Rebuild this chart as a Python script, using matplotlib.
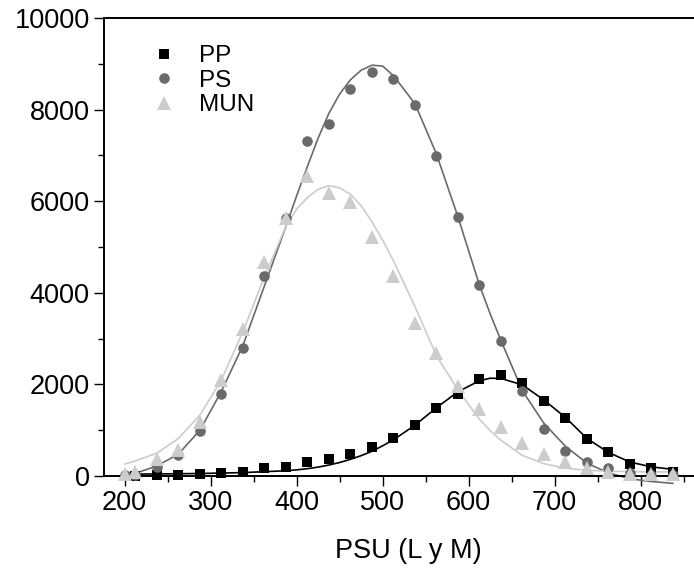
import matplotlib
matplotlib.use("Agg")
import matplotlib.pyplot as plt
from matplotlib.ticker import MultipleLocator

plt.rcParams["font.family"] = ["Liberation Sans", "DejaVu Sans"]

# marker positions (PSU score bins)
psu = [200, 212.5, 237.5, 262.5, 287.5, 312.5, 337.5, 362.5, 387.5, 412.5,
       437.5, 462.5, 487.5, 512.5, 537.5, 562.5, 587.5, 612.5, 637.5, 662.5,
       687.5, 712.5, 737.5, 762.5, 787.5, 812.5, 837.5]

pp = [0, 5, 20, 15, 35, 65, 95, 175, 205, 300,
      380, 480, 640, 820, 1110, 1490, 1780, 2110, 2205, 2040,
      1645, 1260, 815, 515, 255, 165, 90]
ps = [20, 30, 200, 450, 975, 1800, 2790, 4375, 5630, 7310,
      7690, 8440, 8810, 8670, 8090, 6990, 5655, 4170, 2955, 1860,
      1020, 550, 310, 165, 60, 30, 20]
mun = [40, 95, 365, 570, 1190, 2100, 3220, 4680, 5630, 6560,
       6170, 5975, 5225, 4370, 3330, 2680, 1970, 1455, 1060, 730,
       475, 300, 170, 95, 50, 40, 40]

# fitted curves, values
fit_x = [200, 212.5, 237.5, 262.5, 287.5, 312.5, 337.5, 362.5, 387.5, 400,
         412.5, 425, 437.5, 450, 462.5, 475, 487.5, 500, 512.5, 537.5,
         562.5, 587.5, 612.5, 625, 637.5, 662.5, 687.5, 712.5, 737.5, 762.5,
         787.5, 812.5, 837.5]
pp_fit = [40, 42, 45, 50, 55, 65, 75, 95, 115, 135,
          160, 195, 240, 295, 365, 445, 540, 660, 790, 1110,
          1490, 1840, 2080, 2135, 2130, 1990, 1660, 1280, 820, 515,
          305, 200, 145]
ps_fit = [0, 60, 220, 480, 1000, 1850, 2850, 4150, 5450, 6120,
          6760, 7380, 7920, 8340, 8650, 8860, 8970, 8950, 8740, 8130,
          7030, 5660, 4170, 3540, 2960, 1860, 1150, 650, 280, 70,
          -60, -120, -160]
mun_fit = [260, 330, 500, 820, 1330, 2100, 3150, 4350, 5450, 5830,
           6080, 6260, 6340, 6290, 6150, 5900, 5550, 5150, 4700, 3700,
           2630, 1880, 1240, 990, 780, 450, 270, 170, 125, 105,
           95, 90, 90]

black = "#000000"
dark = "#6a6a6a"
light = "#cccccc"

fig = plt.figure(figsize=(6.94, 5.69), dpi=100)
ax = fig.add_axes([0.1499, 0.1634, 0.8501, 0.805])

ax.plot(fit_x, pp_fit, color=black, lw=1.2, clip_on=False, zorder=2)
ax.plot(fit_x, ps_fit, color=dark, lw=1.2, clip_on=False, zorder=2)
ax.plot(fit_x, mun_fit, color=light, lw=1.2, clip_on=False, zorder=2)

ax.plot(psu[1:], pp[1:], "s", color=black, ms=6.6, mew=0, clip_on=False,
        zorder=3, label="PP")
ax.plot(psu, ps, "o", color=dark, ms=7.6, mew=0, clip_on=False,
        zorder=4, label="PS")
ax.plot(psu, mun, "^", color=light, ms=9.8, mew=0, clip_on=False,
        zorder=5, label="MUN")

ax.set_xlim(176, 862)
ax.set_ylim(0, 10000)
ax.xaxis.set_major_locator(MultipleLocator(100))
ax.xaxis.set_minor_locator(MultipleLocator(50))
ax.yaxis.set_major_locator(MultipleLocator(2000))
ax.yaxis.set_minor_locator(MultipleLocator(1000))

for side in ["left", "top", "bottom"]:
    ax.spines[side].set_linewidth(1.4)
ax.spines["right"].set_visible(False)

ax.tick_params(which="major", direction="out", length=7.2, width=1.0,
               labelsize=19.5, pad=3)
ax.tick_params(which="minor", direction="out", length=4.2, width=1.0)

ax.set_xlabel("PSU (L y M)", fontsize=19.5)
ax.xaxis.set_label_coords(0.515, -0.135)

leg = ax.legend(loc="upper left", bbox_to_anchor=(0.065, 0.962), frameon=False,
                fontsize=17.5, handlelength=1.0, handletextpad=0.95,
                labelspacing=0.1, borderaxespad=0)

fig.savefig("out.png", dpi=100)
